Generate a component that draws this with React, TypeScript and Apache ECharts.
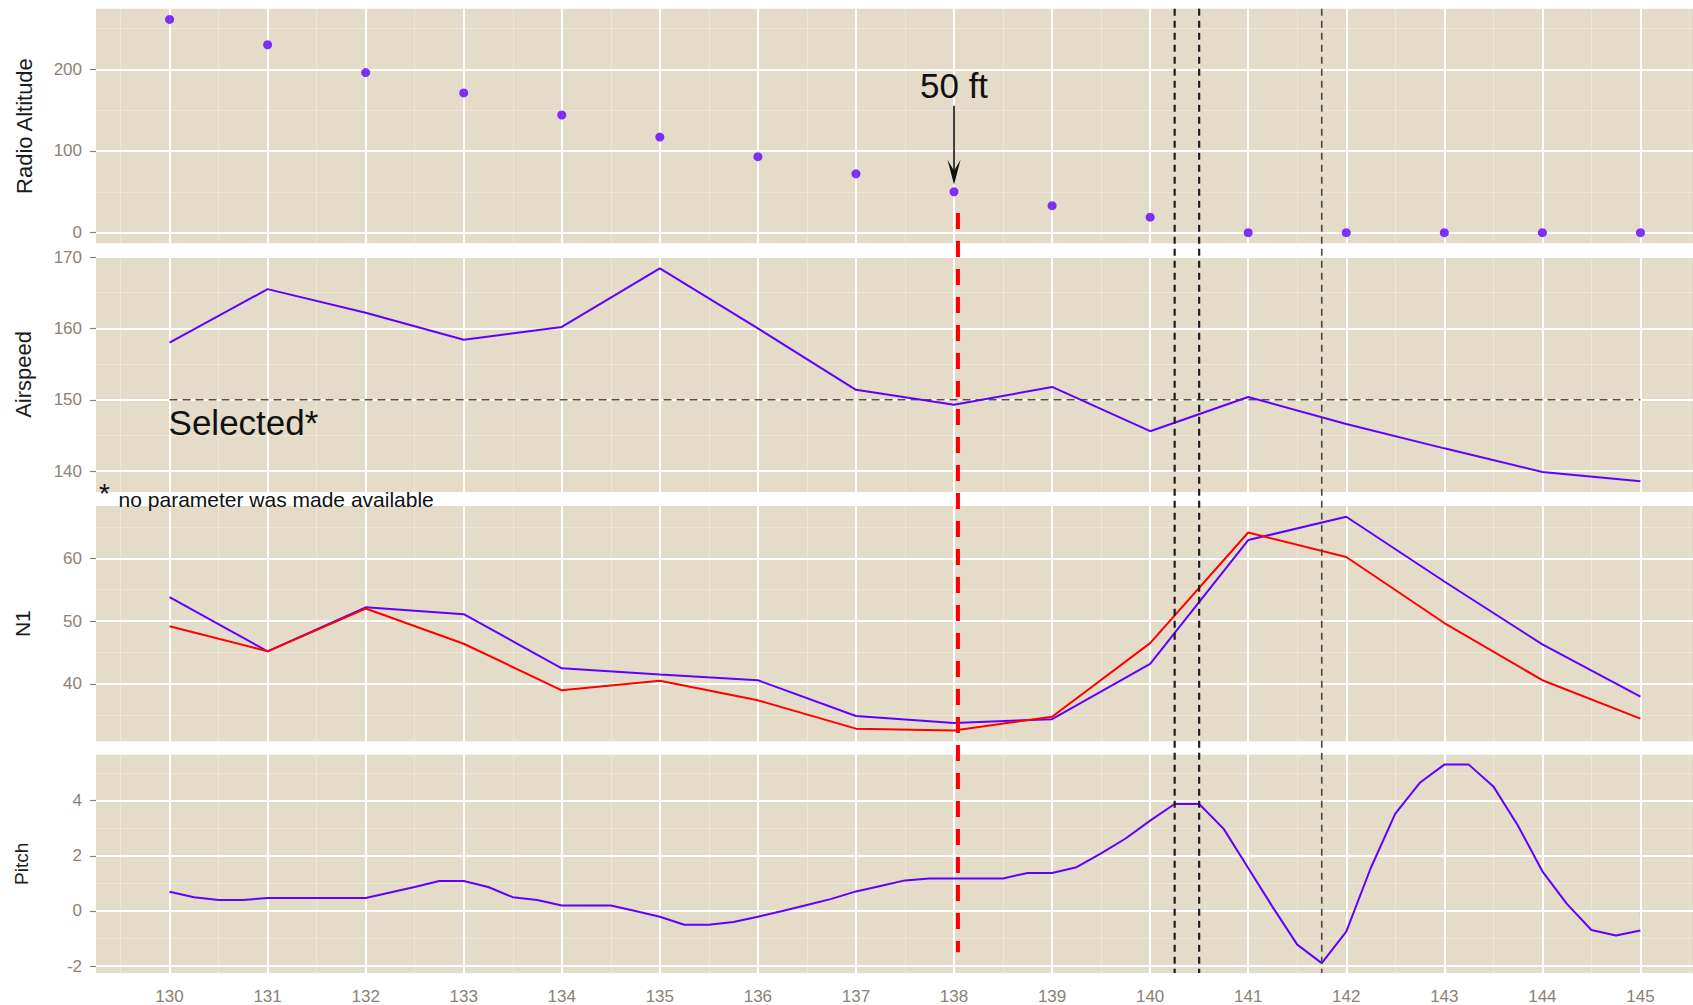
import React, { useEffect, useRef } from "react";
import * as echarts from "echarts";

// Time axis, seconds
const seconds = [130, 131, 132, 133, 134, 135, 136, 137, 138, 139, 140, 141, 142, 143, 144, 145];
const timeTicks = [130, 131, 132, 133, 134, 135, 136, 137, 138, 139, 140, 141, 142, 143, 144, 145];
const timeMinor = [129.5, 130.5, 131.5, 132.5, 133.5, 134.5, 135.5, 136.5, 137.5, 138.5, 139.5, 140.5, 141.5, 142.5, 143.5, 144.5, 145.5];

// Radio altitude, ft (1 Hz)
const radioAltitude = [261, 230, 196, 171, 144, 117, 93, 72, 50, 33, 19, 0, 0, 0, 0, 0];
const altitudeTicks = [0, 100, 200];
const altitudeMinor = [50, 150, 250];

// Airspeed, kt (1 Hz) and the selected speed reference
const airspeed = [158.0, 165.5, 162.2, 158.4, 160.2, 168.4, 160.0, 151.4, 149.3, 151.8, 145.6, 150.4, 146.6, 143.2, 139.9, 138.6];
const selectedAirspeed = 150;
const airspeedTicks = [140, 150, 160, 170];
const airspeedMinor = [145, 155, 165];

// N1, % (1 Hz), one list per engine
const n1Engine1 = [53.8, 45.2, 52.2, 51.1, 42.5, 41.5, 40.6, 34.9, 33.8, 34.4, 43.2, 62.9, 66.6, 56.3, 46.3, 38.0];
const n1Engine2 = [49.2, 45.2, 52.0, 46.4, 39.0, 40.5, 37.4, 32.9, 32.6, 34.8, 46.5, 64.1, 60.2, 49.7, 40.6, 34.5];
const n1Ticks = [40, 50, 60];
const n1Minor = [35, 45, 55, 65];

// Pitch attitude, deg (4 Hz) as [time, value]
const pitch: [number, number][] = [
  [130.0, 0.7], [130.25, 0.5], [130.5, 0.4], [130.75, 0.4], [131.0, 0.47], [131.25, 0.47], [131.5, 0.47], [131.75, 0.47],
  [132.0, 0.47], [132.25, 0.67], [132.5, 0.87], [132.75, 1.09], [133.0, 1.09], [133.25, 0.87], [133.5, 0.5], [133.75, 0.4],
  [134.0, 0.2], [134.25, 0.2], [134.5, 0.2], [134.75, 0.0], [135.0, -0.21], [135.25, -0.5], [135.5, -0.5], [135.75, -0.4],
  [136.0, -0.21], [136.25, 0.0], [136.5, 0.22], [136.75, 0.44], [137.0, 0.71], [137.25, 0.91], [137.5, 1.11], [137.75, 1.18],
  [138.0, 1.18], [138.25, 1.18], [138.5, 1.18], [138.75, 1.38], [139.0, 1.38], [139.25, 1.59], [139.5, 2.09], [139.75, 2.63],
  [140.0, 3.28], [140.25, 3.88], [140.5, 3.88], [140.75, 2.98], [141.0, 1.56], [141.25, 0.14], [141.5, -1.22], [141.75, -1.89],
  [142.0, -0.75], [142.25, 1.56], [142.5, 3.53], [142.75, 4.65], [143.0, 5.31], [143.25, 5.31], [143.5, 4.52], [143.75, 3.1],
  [144.0, 1.44], [144.25, 0.26], [144.5, -0.69], [144.75, -0.89], [145.0, -0.71],
];
const pitchTicks = [-2, 0, 2, 4];
const pitchMinor = [-1, 1, 3, 5];

// Event markers
const eventTimes = [140.25, 140.5, 141.75];
const fiftyFootTime = 138.04;
const fiftyFootSpan = { fromAltitude: 24, toPitch: -1.5 };

const FONT = '"Liberation Sans", Arial, Helvetica, sans-serif';
const PURPLE = "#6000ff";
const RED = "#ff0000";
const PANEL_BG = "#e4dcc8";
const MINOR_GRID = "#ede7da";
const TICK_COLOR = "#8a8276";
// visible time window (the panels run off the right edge of the page)
const X_MIN = 129.25;
const X_MAX = 145.536;

const panels = [
  { top: 8.8, height: 234.5, min: -13, max: 274, split: 3, ticks: altitudeTicks, minor: altitudeMinor, title: "Radio Altitude", titleSize: 22, nameGap: 61 },
  { top: 257, height: 234.9, min: 137.1, max: 170, split: 3, ticks: airspeedTicks, minor: airspeedMinor, title: "Airspeed", titleSize: 22, nameGap: 62 },
  { top: 506.1, height: 235.1, min: 30.9, max: 68.3, split: 4, ticks: n1Ticks, minor: n1Minor, title: "N1", titleSize: 21, nameGap: 63 },
  { top: 754.7, height: 223, min: -2.25, max: 5.67, split: 4, ticks: pitchTicks, minor: pitchMinor, title: "Pitch", titleSize: 19, nameGap: 65 },
];

const pairs = (values: number[]) => seconds.map((t, k) => [t, values[k]]);

function buildOption(): any {
  const major = { color: "#ffffff", width: 2, type: "solid" };
  const minor = { color: MINOR_GRID, width: 1, type: "solid" };
  const last = panels.length - 1;

  const gridCarriers = panels.map((p, i) => ({
    type: "line",
    xAxisIndex: i,
    yAxisIndex: i,
    data: [],
    z: 1,
    silent: true,
    markLine: {
      silent: true,
      z: 1,
      symbol: ["none", "none"],
      animation: false,
      label: { show: false },
      emphasis: { disabled: true },
      data: [
        ...timeMinor.map((v) => ({ xAxis: v, lineStyle: minor })),
        ...p.minor.map((v) => ({ yAxis: v, lineStyle: minor })),
        ...timeTicks.map((v) => ({ xAxis: v, lineStyle: major })),
        ...p.ticks.map((v) => ({ yAxis: v, lineStyle: major })),
      ],
    },
  }));

  const lineBase = { type: "line", symbol: "none", showSymbol: false, silent: true, z: 3 };

  return {
    animation: false,
    backgroundColor: "#ffffff",
    textStyle: { fontFamily: FONT },
    grid: panels.map((p) => ({
      left: 96,
      right: 0,
      top: p.top,
      height: p.height,
      show: true,
      backgroundColor: PANEL_BG,
      borderWidth: 0,
    })),
    xAxis: panels.map((_, i) => ({
      type: "value",
      gridIndex: i,
      min: X_MIN,
      max: X_MAX,
      splitNumber: 16,
      axisLine: { show: false },
      splitLine: { show: false },
      axisTick: {
        show: i === last,
        length: 6,
        customValues: timeTicks,
        lineStyle: { color: TICK_COLOR, width: 1.2 },
      },
      axisLabel: {
        show: i === last,
        customValues: timeTicks,
        color: TICK_COLOR,
        fontSize: 17,
        margin: 15,
        formatter: (v: number) => (timeTicks.includes(v) ? String(v) : ""),
      },
    })),
    yAxis: panels.map((p, i) => ({
      type: "value",
      gridIndex: i,
      min: p.min,
      max: p.max,
      splitNumber: p.split,
      name: p.title,
      nameLocation: "middle",
      nameGap: p.nameGap,
      nameTextStyle: { fontSize: p.titleSize, color: "#1a1a1a", fontFamily: FONT },
      axisLine: { show: false },
      splitLine: { show: false },
      axisTick: {
        show: true,
        length: 6,
        customValues: p.ticks,
        lineStyle: { color: TICK_COLOR, width: 1.2 },
      },
      axisLabel: {
        customValues: p.ticks,
        color: TICK_COLOR,
        fontSize: 17,
        margin: 14,
        formatter: (v: number) => (p.ticks.includes(v) ? String(v) : ""),
      },
    })),
    series: [
      ...gridCarriers,
      {
        type: "scatter",
        xAxisIndex: 0,
        yAxisIndex: 0,
        data: pairs(radioAltitude),
        symbolSize: 9,
        itemStyle: { color: PURPLE },
        silent: true,
        z: 3,
      },
      {
        ...lineBase,
        xAxisIndex: 1,
        yAxisIndex: 1,
        data: [
          [seconds[0], selectedAirspeed],
          [seconds[seconds.length - 1], selectedAirspeed],
        ],
        lineStyle: { color: "#555047", width: 1.5, type: [8, 5] },
        z: 2,
      },
      { ...lineBase, xAxisIndex: 1, yAxisIndex: 1, data: pairs(airspeed), lineStyle: { color: PURPLE, width: 2 } },
      { ...lineBase, xAxisIndex: 2, yAxisIndex: 2, data: pairs(n1Engine1), lineStyle: { color: PURPLE, width: 2 } },
      { ...lineBase, xAxisIndex: 2, yAxisIndex: 2, data: pairs(n1Engine2), lineStyle: { color: RED, width: 2 } },
      { ...lineBase, xAxisIndex: 3, yAxisIndex: 3, data: pitch, lineStyle: { color: PURPLE, width: 2 } },
    ],
  };
}

function buildOverlay(chart: echarts.ECharts): any[] {
  const at = (g: number, x: number, y: number) =>
    chart.convertToPixel({ gridIndex: g } as any, [x, y]) as number[];
  const els: any[] = [];

  // event markers running through all four panels
  eventTimes.forEach((t, k) => {
    const [x, y1] = at(0, t, panels[0].max);
    const y2 = at(3, t, panels[3].min)[1];
    els.push({
      type: "line",
      silent: true,
      z: 50,
      shape: { x1: x, y1, x2: x, y2 },
      style: { stroke: k < 2 ? "#1e1e1e" : "#4a4640", lineWidth: k < 2 ? 2.2 : 1.6, lineDash: [7, 5] },
    });
  });

  // 50 ft crossing marker
  {
    const [x, y1] = at(0, fiftyFootTime, fiftyFootSpan.fromAltitude);
    const y2 = at(3, fiftyFootTime, fiftyFootSpan.toPitch)[1];
    els.push({
      type: "line",
      silent: true,
      z: 60,
      shape: { x1: x, y1, x2: x, y2 },
      style: { stroke: RED, lineWidth: 4, lineDash: [16, 12] },
    });
  }

  // arrow and label pointing at the 50 ft sample
  {
    const [dx, dy] = at(0, seconds[radioAltitude.indexOf(50)], 50);
    const tip = dy - 7;
    els.push({
      type: "line",
      silent: true,
      z: 60,
      shape: { x1: dx, y1: dy - 86, x2: dx, y2: tip - 12 },
      style: { stroke: "#111111", lineWidth: 1.6 },
    });
    els.push({
      type: "polygon",
      silent: true,
      z: 60,
      shape: { points: [[dx, tip], [dx - 6.5, tip - 25], [dx, tip - 14], [dx + 6.5, tip - 25]] },
      style: { fill: "#111111" },
    });
    els.push({
      type: "text",
      silent: true,
      z: 60,
      x: dx,
      y: dy - 106,
      style: { text: "50 ft", fontSize: 35, fontFamily: FONT, fill: "#111111", align: "center", verticalAlign: "middle" },
    });
  }

  // selected speed label
  {
    const [x, y] = at(1, seconds[0], selectedAirspeed);
    els.push({
      type: "text",
      silent: true,
      z: 60,
      x: x - 1,
      y: y + 23,
      style: { text: "Selected*", fontSize: 35, fontFamily: FONT, fill: "#111111", align: "left", verticalAlign: "middle" },
    });
  }

  // footnote under the airspeed panel
  {
    const [x, y] = at(1, X_MIN, panels[1].min);
    els.push({
      type: "text",
      silent: true,
      z: 60,
      x: x + 8.5,
      y: y + 2,
      style: { text: "*", fontSize: 28, fontFamily: FONT, fill: "#111111", align: "center", verticalAlign: "middle" },
    });
    els.push({
      type: "text",
      silent: true,
      z: 60,
      x: x + 22.6,
      y: y + 7.4,
      style: {
        text: "no parameter was made available",
        fontSize: 21,
        fontFamily: FONT,
        fill: "#111111",
        align: "left",
        verticalAlign: "middle",
      },
    });
  }

  return els;
}

export default function App() {
  const ref = useRef<HTMLDivElement>(null);

  useEffect(() => {
    const el = ref.current;
    if (!el) return;
    const chart = echarts.init(el, null, { renderer: "svg" });
    chart.setOption(buildOption());
    chart.setOption({ graphic: { elements: buildOverlay(chart) } });
    return () => chart.dispose();
  }, []);

  return (
    <div
      ref={ref}
      style={{ position: "fixed", left: 0, top: 0, width: 1693, height: 1005, background: "#ffffff" }}
    />
  );
}
